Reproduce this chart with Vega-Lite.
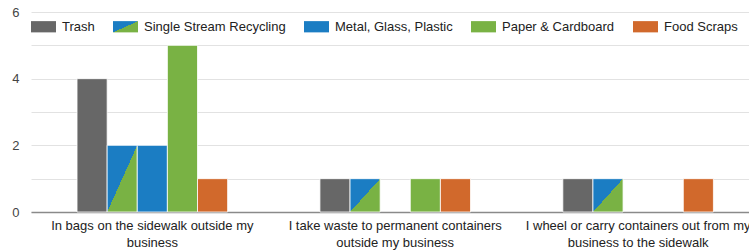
{
  "$schema": "https://vega.github.io/schema/vega-lite/v6.json",
  "width": 718,
  "height": 200,
  "autosize": {"type": "none"},
  "padding": {"left": 31, "top": 12, "right": 0, "bottom": 38},
  "background": "white",
  "config": {"view": {"stroke": null}, "font": "Liberation Sans"},
  "data": {
    "values": [
      {"category": "In bags on the sidewalk outside my business", "series": "Trash", "value": 4},
      {"category": "In bags on the sidewalk outside my business", "series": "Single Stream Recycling", "value": 2},
      {"category": "In bags on the sidewalk outside my business", "series": "Metal, Glass, Plastic", "value": 2},
      {"category": "In bags on the sidewalk outside my business", "series": "Paper & Cardboard", "value": 5},
      {"category": "In bags on the sidewalk outside my business", "series": "Food Scraps", "value": 1},
      {"category": "I take waste to permanent containers outside my business", "series": "Trash", "value": 1},
      {"category": "I take waste to permanent containers outside my business", "series": "Single Stream Recycling", "value": 1},
      {"category": "I take waste to permanent containers outside my business", "series": "Metal, Glass, Plastic", "value": 0},
      {"category": "I take waste to permanent containers outside my business", "series": "Paper & Cardboard", "value": 1},
      {"category": "I take waste to permanent containers outside my business", "series": "Food Scraps", "value": 1},
      {"category": "I wheel or carry containers out from my business to the sidewalk", "series": "Trash", "value": 1},
      {"category": "I wheel or carry containers out from my business to the sidewalk", "series": "Single Stream Recycling", "value": 1},
      {"category": "I wheel or carry containers out from my business to the sidewalk", "series": "Metal, Glass, Plastic", "value": 0},
      {"category": "I wheel or carry containers out from my business to the sidewalk", "series": "Paper & Cardboard", "value": 0},
      {"category": "I wheel or carry containers out from my business to the sidewalk", "series": "Food Scraps", "value": 1}
    ]
  },
  "transform": [{"filter": "datum.value > 0"}],
  "mark": {"type": "bar", "stroke": "#ffffff", "strokeWidth": 0.8},
  "encoding": {
    "x": {
      "field": "category",
      "type": "nominal",
      "sort": null,
      "scale": {"paddingInner": 0.38, "paddingOuter": 0.168, "align": 0.564},
      "axis": {
        "title": null,
        "labelAngle": 0,
        "ticks": false,
        "grid": false,
        "domainColor": "#8a8a8a",
        "domainWidth": 1.4,
        "labelFontSize": 13,
        "labelColor": "#222222",
        "labelPadding": 7,
        "labelLineHeight": 17,
        "labelLimit": 400,
        "labelExpr": "datum.label === 'In bags on the sidewalk outside my business' ? ['In bags on the sidewalk outside my', 'business'] : datum.label === 'I take waste to permanent containers outside my business' ? ['I take waste to permanent containers', 'outside my business'] : ['I wheel or carry containers out from my', 'business to the sidewalk']"
      }
    },
    "xOffset": {
      "field": "series",
      "type": "nominal",
      "sort": ["Trash", "Single Stream Recycling", "Metal, Glass, Plastic", "Paper & Cardboard", "Food Scraps"],
      "scale": {"paddingInner": 0, "paddingOuter": 0}
    },
    "y": {
      "field": "value",
      "type": "quantitative",
      "scale": {"domain": [0, 6], "nice": false},
      "axis": {
        "title": null,
        "values": [0, 1, 2, 3, 4, 5, 6],
        "labelExpr": "datum.value % 2 === 0 ? datum.label : ''",
        "ticks": false,
        "domain": false,
        "gridColor": "#e2e2e2",
        "labelFontSize": 13,
        "labelColor": "#444444",
        "labelPadding": 12
      }
    },
    "color": {
      "field": "series",
      "type": "nominal",
      "scale": {
        "domain": ["Trash", "Single Stream Recycling", "Metal, Glass, Plastic", "Paper & Cardboard", "Food Scraps"],
        "range": [
          "#676767",
          {"expr": "{gradient: 'linear', x1: 0, y1: 0, x2: 1, y2: 1, stops: [{offset: 0, color: '#1b7dc3'}, {offset: 0.5, color: '#1b7dc3'}, {offset: 0.5, color: '#79b244'}, {offset: 1, color: '#79b244'}]}"},
          "#1b7dc3",
          "#79b244",
          "#d1692c"
        ]
      },
      "legend": {
        "orient": "none",
        "legendX": 0,
        "legendY": 2,
        "direction": "horizontal",
        "columns": 5,
        "title": null,
        "padding": 0,
        "symbolType": "M-1,-0.45H1V0.45H-1Z",
        "symbolSize": 625,
        "symbolStrokeWidth": 0,
        "symbolOpacity": 1,
        "labelFontSize": 13,
        "labelColor": "#222222",
        "labelOffset": 6,
        "columnPadding": 18,
        "labelLimit": 300
      }
    }
  }
}
